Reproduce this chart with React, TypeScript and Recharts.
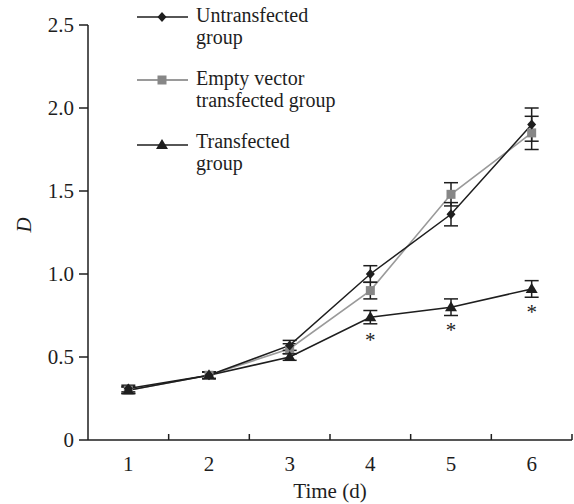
import React from 'react';
import {
  LineChart,
  Line,
  XAxis,
  YAxis,
  ErrorBar,
  LabelList,
  Legend,
} from 'recharts';

const days = [1, 2, 3, 4, 5, 6];
const untransfected = [0.31, 0.39, 0.57, 1.0, 1.36, 1.9];
const untransfectedErr = [0.02, 0.02, 0.03, 0.05, 0.07, 0.1];
const emptyVector = [0.3, 0.39, 0.55, 0.9, 1.48, 1.85];
const emptyVectorErr = [0.02, 0.02, 0.03, 0.05, 0.07, 0.1];
const transfected = [0.3, 0.39, 0.5, 0.74, 0.8, 0.91];
const transfectedErr = [0.02, 0.02, 0.02, 0.04, 0.05, 0.05];
const significance = ['', '', '', '*', '*', '*'];
const yTicks = [0, 0.5, 1, 1.5, 2, 2.5];

const legendItems = [
  { key: 'untrans', lines: ['Untransfected', 'group'] },
  { key: 'empty', lines: ['Empty vector', 'transfected group'] },
  { key: 'trans', lines: ['Transfected', 'group'] },
];

const data = days.map((day, i) => ({
  day,
  untrans: untransfected[i],
  untransErr: untransfectedErr[i],
  empty: emptyVector[i],
  emptyErr: emptyVectorErr[i],
  trans: transfected[i],
  transErr: transfectedErr[i],
  sig: significance[i],
}));

const FONT = 'Liberation Serif, Times New Roman, DejaVu Serif, serif';
const FS = 21;
const INK = '#1e1e1e';
const GREY = '#9a9a9a';
const HALF_BAND = 40.33; // half of one day's width on the x axis
const textStyle = { fontFamily: FONT };

const Marker = ({ kind, cx, cy }: { kind: string; cx: number; cy: number }) => {
  if (kind === 'untrans') {
    return (
      <path
        d={`M${cx},${cy - 5} L${cx + 4.5},${cy} L${cx},${cy + 5} L${cx - 4.5},${cy} Z`}
        fill={INK}
      />
    );
  }
  if (kind === 'empty') {
    return <rect x={cx - 4.5} y={cy - 4.5} width={9} height={9} fill="#878787" />;
  }
  return (
    <path
      d={`M${cx},${cy - 6} L${cx + 6},${cy + 4} L${cx - 6},${cy + 4} Z`}
      fill={INK}
    />
  );
};

const dotFor = (kind: string) => (props: any) => {
  const { cx, cy, index } = props;
  if (cx == null || cy == null) return <g key={`${kind}-${index}`} />;
  return (
    <g key={`${kind}-${index}`}>
      <Marker kind={kind} cx={cx} cy={cy} />
    </g>
  );
};

const DayTick = (props: any) => {
  const { x, y, payload } = props;
  return (
    <g>
      <line x1={x + HALF_BAND} y1={y} x2={x + HALF_BAND} y2={y - 6} stroke={INK} strokeWidth={1.5} />
      <text x={x} y={y + 31} textAnchor="middle" style={textStyle} fontSize={FS} fill={INK}>
        {payload.value}
      </text>
    </g>
  );
};

const Star = (props: any) => {
  const { x, y, value } = props;
  if (!value) return null;
  return (
    <text x={x} y={y + 30} textAnchor="middle" style={textStyle} fontSize={FS} fill={INK}>
      {value}
    </text>
  );
};

const LegendBox = () => {
  const rows = [17, 80, 145];
  const textBase = [22, 85, 148];
  return (
    <svg width={380} height={185} style={{ display: 'block' }}>
      {legendItems.map((item, i) => (
        <g key={item.key}>
          <line
            x1={137}
            x2={188}
            y1={rows[i]}
            y2={rows[i]}
            stroke={item.key === 'empty' ? GREY : INK}
            strokeWidth={item.key === 'empty' ? 2 : 1.6}
          />
          <Marker kind={item.key} cx={162} cy={rows[i]} />
          {item.lines.map((t, j) => (
            <text
              key={t}
              x={196}
              y={textBase[i] + j * 22}
              style={textStyle}
              fontSize={20}
              fill={INK}
            >
              {t}
            </text>
          ))}
        </g>
      ))}
    </svg>
  );
};

const App: React.FC = () => {
  return (
    <div style={{ position: 'absolute', left: 0, top: 0, background: '#fff', fontFamily: FONT }}>
      <LineChart width={574} height={504} data={data} margin={{ top: 25, right: 2, left: 20, bottom: 0 }}>
        <XAxis
          dataKey="day"
          type="number"
          domain={[0.5, 6.5]}
          ticks={days}
          height={64}
          tickLine={false}
          tickSize={0}
          tickMargin={0}
          tick={<DayTick />}
          axisLine={{ stroke: INK, strokeWidth: 1.5 }}
          label={{ value: 'Time (d)', position: 'insideBottom', offset: 6, style: textStyle, fontSize: FS, fill: INK }}
        />
        <YAxis
          domain={[0, 2.5]}
          ticks={yTicks}
          width={68}
          tickSize={9}
          tickMargin={5}
          tickFormatter={(v: number) => (v === 0 ? '0' : v.toFixed(1))}
          tick={{ style: textStyle, fontSize: FS, fill: INK }}
          tickLine={{ stroke: INK, strokeWidth: 1.5 }}
          axisLine={{ stroke: INK, strokeWidth: 1.5 }}
          label={{
            value: 'D',
            angle: -90,
            position: 'insideLeft',
            offset: 4,
            style: { ...textStyle, fontStyle: 'italic' },
            fontSize: FS,
            fill: INK,
          }}
        />
        <Legend
          layout="horizontal"
          verticalAlign="middle"
          align="center"
          content={<LegendBox />}
          wrapperStyle={{ top: 0, left: 0, width: 380, height: 185 }}
        />
        <Line
          dataKey="empty"
          stroke={GREY}
          strokeWidth={1.6}
          dot={dotFor('empty')}
          activeDot={false}
          isAnimationActive={false}
        >
          <ErrorBar dataKey="emptyErr" width={7} stroke={INK} strokeWidth={1.5} />
        </Line>
        <Line
          dataKey="untrans"
          stroke={INK}
          strokeWidth={1.5}
          dot={dotFor('untrans')}
          activeDot={false}
          isAnimationActive={false}
        >
          <ErrorBar dataKey="untransErr" width={7} stroke={INK} strokeWidth={1.5} />
        </Line>
        <Line
          dataKey="trans"
          stroke={INK}
          strokeWidth={1.6}
          dot={dotFor('trans')}
          activeDot={false}
          isAnimationActive={false}
        >
          <ErrorBar dataKey="transErr" width={7} stroke={INK} strokeWidth={1.5} />
          <LabelList dataKey="sig" content={<Star />} />
        </Line>
      </LineChart>
    </div>
  );
};

export default App;
